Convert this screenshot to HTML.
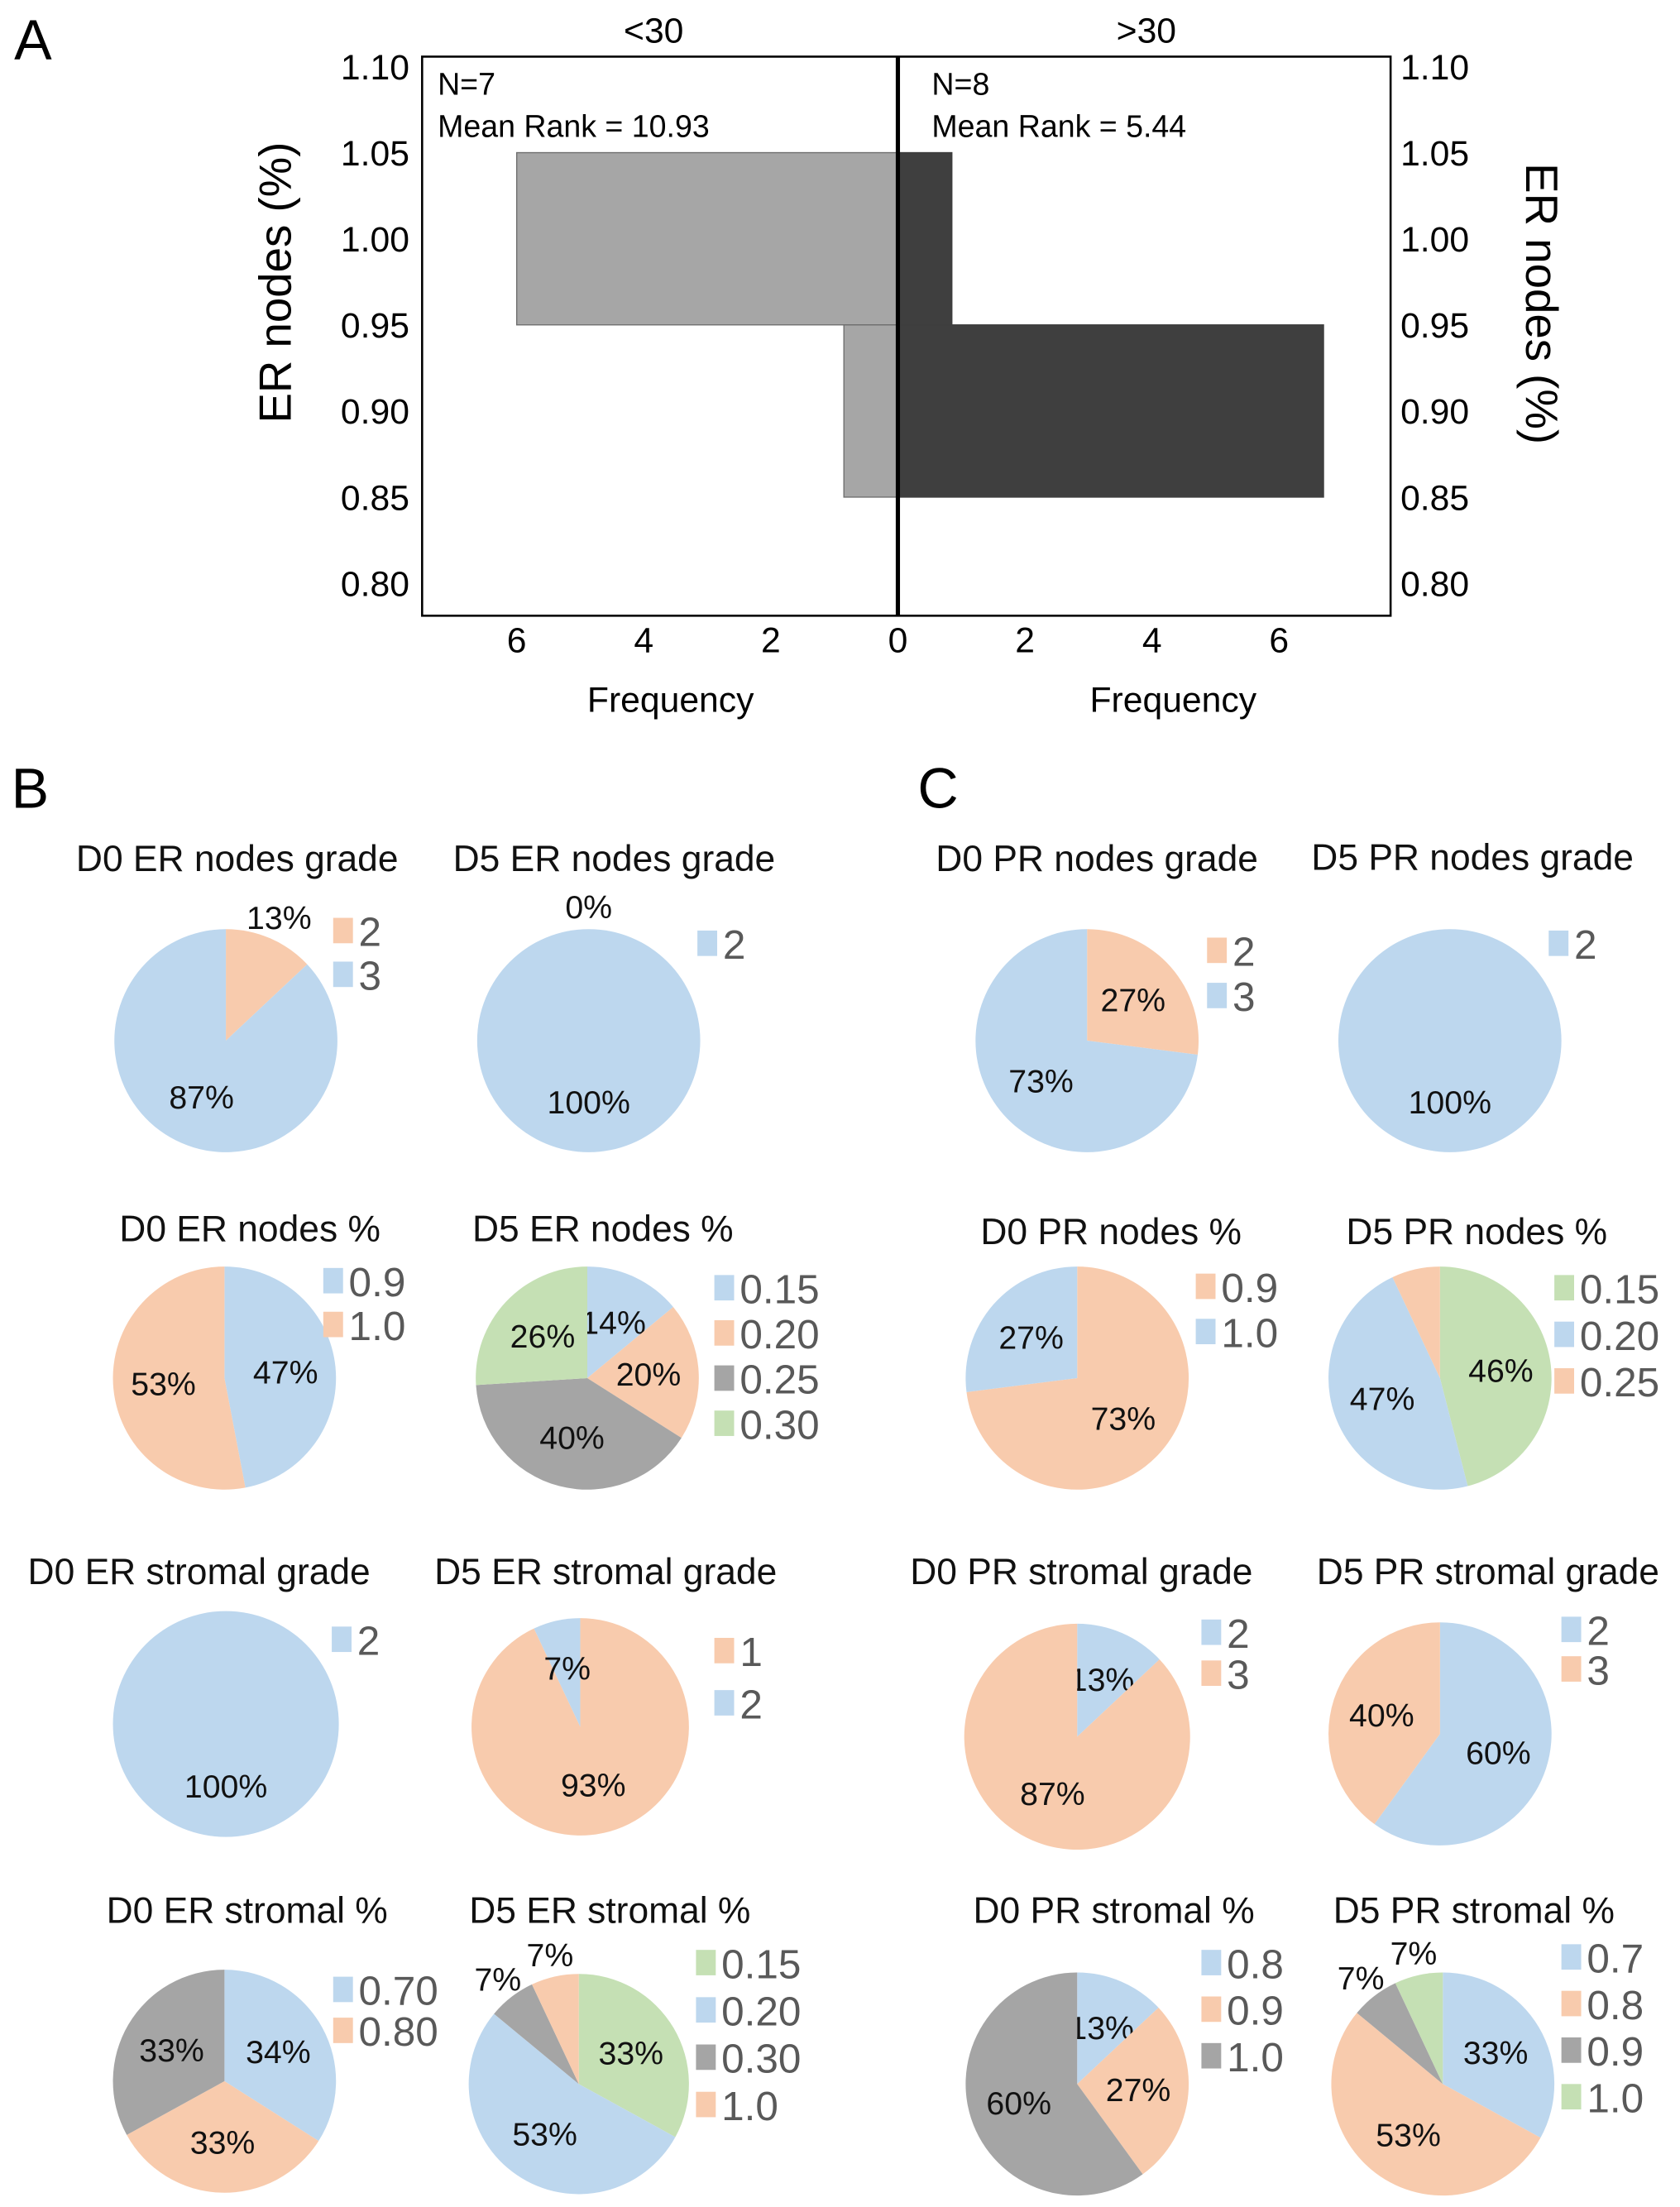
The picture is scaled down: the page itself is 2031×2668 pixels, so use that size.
<!DOCTYPE html>
<html><head><meta charset="utf-8">
<style>
html,body{margin:0;padding:0;background:#fff;}
svg{display:block;}
text{font-family:"Liberation Sans",Arial,sans-serif;}
</style></head>
<body>
<svg id="fig" width="2031" height="2668" viewBox="0 0 1190 1563" xmlns="http://www.w3.org/2000/svg"></svg>
<script>
// ---------- Panel A data ----------
const histBinsLow = [0.95, 0.85];
const histBinsHigh = [1.05, 0.95];
const leftFreq = [6, 0.85];
const rightFreq = [0.85, 6.7];
const yTicks = [1.10, 1.05, 1.00, 0.95, 0.90, 0.85, 0.80];
const yTickLabels = ["1.10","1.05","1.00","0.95","0.90","0.85","0.80"];
const xTicks = [6, 4, 2, 0, 2, 4, 6];
const xTickSide = [-1, -1, -1, 0, 1, 1, 1];

// ---------- Pie data ----------
const d0ErNodesGrade = [13, 87];
const d5ErNodesGrade = [0, 100];
const d0ErNodesPct = [47, 53];
const d5ErNodesPct = [14, 20, 40, 26];
const d0ErStromalGrade = [100];
const d5ErStromalGrade = [93, 7];
const d0ErStromalPct = [34, 33, 33];
const d5ErStromalPct = [33, 53, 7, 7];
const d0PrNodesGrade = [27, 73];
const d5PrNodesGrade = [100];
const d0PrNodesPct = [73, 27];
const d5PrNodesPct = [46, 47, 7];
const d0PrStromalGrade = [13, 87];
const d5PrStromalGrade = [60, 40];
const d0PrStromalPct = [13, 27, 60];
const d5PrStromalPct = [33, 53, 7, 7];

const C = {b:"#bdd7ee", o:"#f8cbad", g:"#a5a5a5", gr:"#c5e0b4"};
const NS = "http://www.w3.org/2000/svg";
const svg = document.getElementById('fig');
function el(tag, attrs, parent){
  const e = document.createElementNS(NS, tag);
  for (const k in attrs) e.setAttribute(k, attrs[k]);
  (parent||svg).appendChild(e);
  return e;
}
function txt(s, attrs, parent){ const t = el('text', attrs, parent); t.textContent = s; return t; }

let t;
t = txt("A", {x:10, y:42, 'font-size':40});  
t = txt("B", {x:8, y:572, 'font-size':40});  
t = txt("C", {x:650, y:572, 'font-size':40});  

// ---------- Panel A ----------
const gA = el('g', {});


const X0 = 636, UNIT = 45;
const yScale = v => 47 + (1.10 - v) / 0.05 * 61;
const xL = f => X0 - f * UNIT;
const xR = f => X0 + f * UNIT;

for (let i = 0; i < leftFreq.length; i++){
  const r = el('rect', {x:xL(leftFreq[i]), y:yScale(histBinsHigh[i]), width:X0 - xL(leftFreq[i]), height:yScale(histBinsLow[i]) - yScale(histBinsHigh[i]), fill:"#a6a6a6", stroke:"#6e6e6e", 'stroke-width':0.8}, gA);
  
  
}
for (let i = 0; i < rightFreq.length; i++){
  const r = el('rect', {x:X0, y:yScale(histBinsHigh[i]), width:xR(rightFreq[i]) - X0, height:yScale(histBinsLow[i]) - yScale(histBinsHigh[i]), fill:"#3f3f3f", stroke:"#3f3f3f", 'stroke-width':0.8}, gA);
  
  
}
el('rect', {x:299, y:40, width:686, height:396, fill:"none", stroke:"#000", 'stroke-width':1.5}, gA);
el('line', {x1:X0, y1:40, x2:X0, y2:436, stroke:"#000", 'stroke-width':3}, gA);

for (let i = 0; i < yTicks.length; i++){
  const y = yScale(yTicks[i]) + 9;
  t = txt(yTickLabels[i], {x:290, y:y, 'font-size':25, 'text-anchor':'end'}, gA);
   
  t = txt(yTickLabels[i], {x:992, y:y, 'font-size':25}, gA);
   
}
for (let i = 0; i < xTicks.length; i++){
  const x = X0 + xTickSide[i] * xTicks[i] * UNIT;
  t = txt(String(xTicks[i]), {x:x, y:462, 'font-size':25, 'text-anchor':'middle'}, gA);
   
}
t = txt("Frequency", {x:475, y:504, 'font-size':25, 'text-anchor':'middle'}, gA);  
t = txt("Frequency", {x:831, y:504, 'font-size':25, 'text-anchor':'middle'}, gA);  
t = txt("<30", {x:463, y:30, 'font-size':25, 'text-anchor':'middle'}, gA);  
t = txt(">30", {x:812, y:30, 'font-size':25, 'text-anchor':'middle'}, gA);  
t = txt("N=7", {x:310, y:67, 'font-size':22}, gA);  
t = txt("Mean Rank = 10.93", {x:310, y:97, 'font-size':22}, gA);  
t = txt("N=8", {x:660, y:67, 'font-size':22}, gA);  
t = txt("Mean Rank = 5.44", {x:660, y:97, 'font-size':22}, gA);  
t = txt("ER nodes (%)", {x:0, y:0, 'font-size':32, 'text-anchor':'middle', transform:"translate(206,200) rotate(-90)"}, gA);  
t = txt("ER nodes (%)", {x:0, y:0, 'font-size':32, 'text-anchor':'middle', transform:"translate(1081,215) rotate(90)"}, gA);  

// ---------- Pies ----------
const pies = [
 {name:"d0-er-nodes-grade", title:"D0 ER  nodes grade", tx:168, ty:617, cx:160, cy:737, r:79, vals:d0ErNodesGrade, cols:[C.o,C.b], mode:['out','in'], leg:[["2",C.o],["3",C.b]], lx:236, ly:660, ls:31},
 {name:"d5-er-nodes-grade", title:"D5 ER  nodes grade", tx:435, ty:617, cx:417, cy:737, r:79, vals:d5ErNodesGrade, cols:[C.o,C.b], mode:['out','in'], leg:[["2",C.b]], lx:494, ly:669, ls:31},
 {name:"d0-er-nodes-pct", title:"D0 ER nodes %", tx:177, ty:879, cx:159, cy:976, r:79, vals:d0ErNodesPct, cols:[C.b,C.o], mode:['in','in'], leg:[["0.9",C.b],["1.0",C.o]], lx:229, ly:908, ls:31},
 {name:"d5-er-nodes-pct", title:"D5 ER nodes %", tx:427, ty:879, cx:416, cy:976, r:79, vals:d5ErNodesPct, cols:[C.b,C.o,C.g,C.gr], mode:['in','in','in','in'], leg:[["0.15",C.b],["0.20",C.o],["0.25",C.g],["0.30",C.gr]], lx:506, ly:913, ls:32},
 {name:"d0-er-stromal-grade", title:"D0 ER  stromal grade", tx:141, ty:1122, cx:160, cy:1221, r:80, vals:d0ErStromalGrade, cols:[C.b], mode:['in'], leg:[["2",C.b]], lx:235, ly:1162, ls:31},
 {name:"d5-er-stromal-grade", title:"D5 ER  stromal grade", tx:429, ty:1122, cx:411, cy:1223, r:77, vals:d5ErStromalGrade, cols:[C.o,C.b], mode:['in','in'], leg:[["1",C.o],["2",C.b]], lx:506, ly:1170, ls:37},
 {name:"d0-er-stromal-pct", title:"D0 ER stromal %", tx:175, ty:1362, cx:159, cy:1474, r:79, vals:d0ErStromalPct, cols:[C.b,C.o,C.g], mode:['in','in','in'], leg:[["0.70",C.b],["0.80",C.o]], lx:236, ly:1410, ls:29},
 {name:"d5-er-stromal-pct", title:"D5 ER stromal %", tx:432, ty:1362, cx:410, cy:1476, r:78, vals:d5ErStromalPct, cols:[C.gr,C.b,C.g,C.o], mode:['in','in','out','out'], leg:[["0.15",C.gr],["0.20",C.b],["0.30",C.g],["1.0",C.o]], lx:493, ly:1391, ls:33.5},
 {name:"d0-pr-nodes-grade", title:"D0 PR  nodes grade", tx:777, ty:617, cx:770, cy:737, r:79, vals:d0PrNodesGrade, cols:[C.o,C.b], mode:['in','in'], leg:[["2",C.o],["3",C.b]], lx:855, ly:674, ls:32},
 {name:"d5-pr-nodes-grade", title:"D5 PR  nodes grade", tx:1043, ty:616, cx:1027, cy:737, r:79, vals:d5PrNodesGrade, cols:[C.b], mode:['in'], leg:[["2",C.b]], lx:1097, ly:669, ls:31},
 {name:"d0-pr-nodes-pct", title:"D0 PR nodes %", tx:787, ty:881, cx:763, cy:976, r:79, vals:d0PrNodesPct, cols:[C.o,C.b], mode:['in','in'], leg:[["0.9",C.o],["1.0",C.b]], lx:847, ly:912, ls:32},
 {name:"d5-pr-nodes-pct", title:"D5 PR nodes %", tx:1046, ty:881, cx:1020, cy:976, r:79, vals:d5PrNodesPct, cols:[C.gr,C.b,C.o], mode:['in','in','none'], leg:[["0.15",C.gr],["0.20",C.b],["0.25",C.o]], lx:1101, ly:913, ls:33},
 {name:"d0-pr-stromal-grade", title:"D0 PR stromal grade", tx:766, ty:1122, cx:763, cy:1230, r:80, vals:d0PrStromalGrade, cols:[C.b,C.o], mode:['in','in'], leg:[["2",C.b],["3",C.o]], lx:851, ly:1157, ls:29},
 {name:"d5-pr-stromal-grade", title:"D5 PR stromal grade", tx:1054, ty:1122, cx:1020, cy:1228, r:79, vals:d5PrStromalGrade, cols:[C.b,C.o], mode:['in','in'], leg:[["2",C.b],["3",C.o]], lx:1106, ly:1155, ls:28},
 {name:"d0-pr-stromal-pct", title:"D0 PR stromal %", tx:789, ty:1362, cx:763, cy:1476, r:79, vals:d0PrStromalPct, cols:[C.b,C.o,C.g], mode:['in','in','in'], leg:[["0.8",C.b],["0.9",C.o],["1.0",C.g]], lx:851, ly:1391, ls:33},
 {name:"d5-pr-stromal-pct", title:"D5 PR stromal %", tx:1044, ty:1362, cx:1022, cy:1476, r:79, vals:d5PrStromalPct, cols:[C.b,C.o,C.g,C.gr], mode:['in','in','out','out'], leg:[["0.7",C.b],["0.8",C.o],["0.9",C.g],["1.0",C.gr]], lx:1106, ly:1387, ls:33}
];

function pt(cx, cy, r, frac){
  const a = frac * 2 * Math.PI;
  return [cx + r * Math.sin(a), cy - r * Math.cos(a)];
}
pies.forEach(p => {
  const g = el('g', {});
  
  
  const tt = txt(p.title, {x:p.tx, y:p.ty, 'font-size':26, 'text-anchor':'middle', fill:'#111', 'xml:space':'preserve'}, g);
  
  
  const total = p.vals.reduce((a,b)=>a+b,0);
  let acc = 0;
  p.vals.forEach((v, i) => {
    const f0 = acc / total, f1 = (acc + v) / total;
    acc += v;
    let s;
    if (v >= total) {
      s = el('circle', {cx:p.cx, cy:p.cy, r:p.r, fill:p.cols[i]}, g);
    } else if (v > 0) {
      const [x0,y0] = pt(p.cx,p.cy,p.r,f0), [x1,y1] = pt(p.cx,p.cy,p.r,f1);
      const large = (f1 - f0) > 0.5 ? 1 : 0;
      s = el('path', {d:`M${p.cx},${p.cy} L${x0},${y0} A${p.r},${p.r} 0 ${large} 1 ${x1},${y1} Z`, fill:p.cols[i]}, g);
    }
    if (s){
      
      
    }
    if (p.mode[i] !== 'none'){
      const rr = p.mode[i] === 'out' ? p.r * 1.2 : p.r * 0.55;
      const [lx, ly] = pt(p.cx, p.cy, rr, (f0 + f1) / 2);
      const lt = txt(v + "%", {x:lx, y:ly + 8, 'font-size':23, 'text-anchor':'middle', fill:'#111'}, g);
      
      
    }
  });
  p.leg.forEach((L, i) => {
    const y = p.ly + i * p.ls;
    const sq = el('rect', {x:p.lx, y:y - 10, width:14, height:18, fill:L[1]}, g);
    
    
    const lt = txt(L[0], {x:p.lx + 18, y:y + 10, 'font-size':29, fill:'#595959'}, g);
    
    
  });
});
</script>
</body></html>
